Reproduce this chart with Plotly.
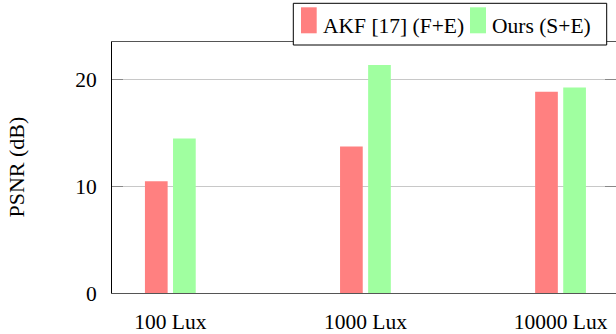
import plotly.graph_objects as go

# PSNR per illumination level
categories = ["100 Lux", "1000 Lux", "10000 Lux"]
akf_psnr = [10.45, 13.7, 18.8]
ours_psnr = [14.45, 21.3, 19.2]
series_names = ["AKF [17] (F+E)", "Ours (S+E)"]
series_colors = ["#ff8080", "#a0ffa0"]
y_ticks = [0, 10, 20]
y_title = "PSNR (dB)"

W, H = 616, 334
L, R, T, B = 112, 0, 42, 41
PW, PH = W - L - R, H - T - B
FONT = "Liberation Serif"


def px_x(p):
    return (p - L) / PW


def px_y(p):
    return (H - B - p) / PH


x_range = [-0.299, -0.299 + PW / 195.1]
y_range = [0, PH / 10.7]

fig = go.Figure()
for name, vals, col in zip(series_names, [akf_psnr, ours_psnr], series_colors):
    fig.add_trace(go.Bar(x=categories, y=vals, name=name, marker_color=col,
                         marker_line_width=0, showlegend=False))

# invisible trace carrying the right-hand tick axis
fig.add_trace(go.Scatter(x=[categories[0]], y=[0], yaxis="y2", mode="markers",
                         marker=dict(opacity=0), showlegend=False, hoverinfo="skip"))

fig.update_layout(
    width=W, height=H,
    margin=dict(l=L, r=R, t=T, b=B, pad=0),
    paper_bgcolor="white", plot_bgcolor="white",
    barmode="group", bargap=0.712, bargroupgap=0.192,
    font=dict(family=FONT, size=21, color="black"),
    xaxis=dict(range=x_range, showline=True, linecolor="#555555", linewidth=1,
               mirror=True, ticks="", showgrid=False, zeroline=False,
               ticklabelstandoff=9, tickfont=dict(size=21.5)),
    yaxis=dict(range=y_range, tickvals=y_ticks, showline=True, linecolor="black",
               linewidth=1, ticks="inside", ticklen=11, tickcolor="#888888",
               showgrid=True, gridcolor="#c8c8c8", gridwidth=1, zeroline=False,
               ticklabelstandoff=10, tickfont=dict(size=21.5)),
    yaxis2=dict(range=y_range, tickvals=y_ticks, overlaying="y", side="right",
                ticks="inside", ticklen=11, tickcolor="#888888",
                showticklabels=False, showgrid=False, showline=False, zeroline=False),
)

# axis title
fig.add_annotation(x=px_x(16), y=0.5, xref="paper", yref="paper", text=y_title,
                   textangle=-90, showarrow=False, xanchor="center", yanchor="middle",
                   font=dict(size=22))

# legend box
shapes = [dict(type="rect", xref="paper", yref="paper",
               x0=px_x(293.3), x1=px_x(606.7), y0=px_y(45), y1=px_y(3.3),
               line=dict(color="black", width=1), fillcolor="white", layer="above")]
swatch_x = [(301, 316.7), (470, 486)]
text_x = [321.7, 490.7]
for (sx0, sx1), tx, name, col in zip(swatch_x, text_x, series_names, series_colors):
    shapes.append(dict(type="rect", xref="paper", yref="paper",
                       x0=px_x(sx0), x1=px_x(sx1), y0=px_y(33.3), y1=px_y(7.3),
                       line=dict(width=0), fillcolor=col, layer="above"))
    fig.add_annotation(x=px_x(tx), y=px_y(26), xref="paper", yref="paper",
                       text=name, showarrow=False, xanchor="left", yanchor="middle",
                       borderpad=0, font=dict(size=21.5))
fig.update_layout(shapes=shapes)

fig.write_html("out.html")
